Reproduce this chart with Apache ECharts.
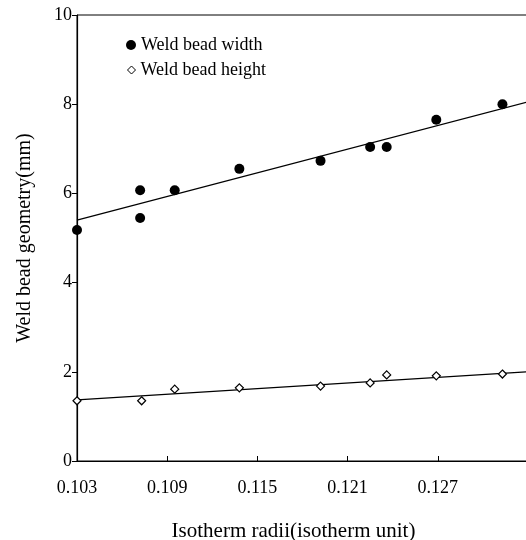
<!DOCTYPE html>
<html>
<head>
<meta charset="utf-8">
<script src="https://cdn.jsdelivr.net/npm/echarts@6/dist/echarts.min.js"></script>
<style>
  html, body { margin: 0; padding: 0; background: #fff; }
  #chart { width: 526px; height: 540px; }
</style>
</head>
<body>
<div id="chart"></div>
<script>
// data
var xTicks = [0.103, 0.109, 0.115, 0.121, 0.127];
var radii = [0.103, 0.1072, 0.1072, 0.1095, 0.1138, 0.1192, 0.1225, 0.1236, 0.1269, 0.1313];
var beadWidth = [5.18, 6.07, 5.45, 6.07, 6.55, 6.73, 7.04, 7.04, 7.65, 8.0];
var radiiH = [0.103, 0.1073, 0.1095, 0.1138, 0.1192, 0.1225, 0.1236, 0.1269, 0.1313];
var beadHeight = [1.35, 1.35, 1.61, 1.64, 1.68, 1.75, 1.93, 1.91, 1.95];
var fitX = [0.103, 0.133];
var widthFit = [5.40, 8.05];
var heightFit = [1.37, 2.0];

function pairs(xs, ys) {
  return xs.map(function (x, i) { return [x, ys[i]]; });
}

var font = "Liberation Serif";
var chart = echarts.init(document.getElementById("chart"));

var legendText = { fontFamily: font, fontSize: 18, color: "#000" };

var option = {
  backgroundColor: "#fff",
  animation: false,
  textStyle: { fontFamily: font, color: "#000" },
  grid: {
    left: 77,
    right: -2,
    top: 15,
    bottom: 79,
    outerBoundsMode: "none",
    containLabel: false,
    show: true,
    borderColor: "#000",
    borderWidth: 1
  },
  legend: [
    {
      left: 121,
      top: 31,
      itemWidth: 10,
      itemHeight: 10,
      data: ["Weld bead width"],
      textStyle: legendText
    },
    {
      left: 122,
      top: 56,
      itemWidth: 8,
      itemHeight: 8,
      data: [{ name: "Weld bead height", itemStyle: { borderWidth: 1 } }],
      textStyle: legendText
    }
  ],
  xAxis: {
    type: "value",
    min: 0.103,
    max: 0.133,
    interval: 0.006,
    name: "Isotherm radii(isotherm unit)",
    nameLocation: "middle",
    nameGap: 60,
    nameTextStyle: { fontFamily: font, fontSize: 21, color: "#000", padding: [0, 18, 0, 0] },
    axisLine: { lineStyle: { color: "#000", width: 1.2 } },
    axisTick: { inside: true, length: 5, customValues: xTicks, lineStyle: { color: "#000" } },
    axisLabel: {
      customValues: xTicks,
      margin: 18,
      fontFamily: font,
      fontSize: 18,
      color: "#000",
      formatter: function (v) { return v.toFixed(3); }
    },
    splitLine: { show: false }
  },
  yAxis: {
    type: "value",
    min: 0,
    max: 10,
    interval: 2,
    name: "Weld bead geometry(mm)",
    nameLocation: "middle",
    nameGap: 42,
    nameTextStyle: { fontFamily: font, fontSize: 20, color: "#000" },
    axisLine: { show: true, lineStyle: { color: "#000", width: 1.2 } },
    axisTick: { show: true, length: 5, lineStyle: { color: "#000" } },
    axisLabel: { margin: 5, fontFamily: font, fontSize: 18, color: "#000" },
    splitLine: { show: false }
  },
  series: [
    {
      name: "Weld bead width",
      type: "scatter",
      symbol: "circle",
      symbolSize: 10,
      itemStyle: { color: "#000", opacity: 1 },
      data: pairs(radii, beadWidth),
      z: 3
    },
    {
      name: "Weld bead height",
      type: "scatter",
      symbol: "diamond",
      symbolSize: 8,
      itemStyle: { color: "#fff", borderColor: "#000", borderWidth: 1.2, opacity: 1 },
      data: pairs(radiiH, beadHeight),
      z: 3
    },
    {
      name: "width fit",
      type: "line",
      symbol: "none",
      lineStyle: { color: "#000", width: 1.2 },
      data: pairs(fitX, widthFit),
      z: 2
    },
    {
      name: "height fit",
      type: "line",
      symbol: "none",
      lineStyle: { color: "#000", width: 1.2 },
      data: pairs(fitX, heightFit),
      z: 2
    }
  ]
};

chart.setOption(option);
</script>
</body>
</html>
